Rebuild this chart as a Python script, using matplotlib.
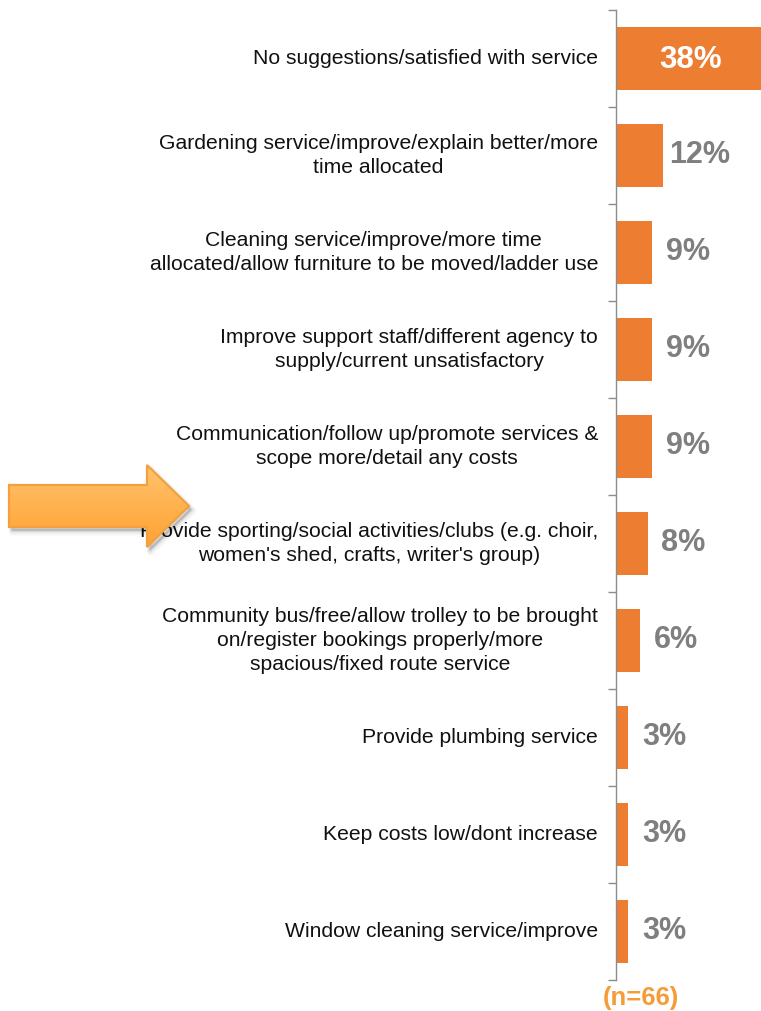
import numpy as np
import matplotlib
matplotlib.use("Agg")
import matplotlib.pyplot as plt
from matplotlib.patches import Polygon
from matplotlib.transforms import blended_transform_factory, offset_copy

plt.rcParams["font.family"] = ["Liberation Sans", "DejaVu Sans"]

categories = [
    "No suggestions/satisfied with service",
    "Gardening service/improve/explain better/more\ntime allocated",
    "Cleaning service/improve/more time\nallocated/allow furniture to be moved/ladder use",
    "Improve support staff/different agency to\nsupply/current unsatisfactory",
    "Communication/follow up/promote services &\nscope more/detail any costs",
    "Provide sporting/social activities/clubs (e.g. choir,\nwomen's shed, crafts, writer's group)",
    "Community bus/free/allow trolley to be brought\non/register bookings properly/more\nspacious/fixed route service",
    "Provide plumbing service",
    "Keep costs low/dont increase",
    "Window cleaning service/improve",
]
values = [38, 12, 9, 9, 9, 8, 6, 3, 3, 3]
value_labels = [f"{v}%" for v in values]
sample_note = "(n=66)"

BAR = "#ED7D31"
GREY = "#7F7F7F"
AXIS = "#8C8C8C"
NOTE = "#F59B38"

W, H = 761, 1011
fig = plt.figure(figsize=(W / 100, H / 100), dpi=100)
ax = fig.add_axes([616 / W, 1 - 980 / H, 1 - 616 / W, 970 / H])

y = np.arange(len(values))
ax.barh(y, values, height=0.64, color=BAR, zorder=2)
ax.set_xlim(0, 36.7)
ax.set_ylim(len(values) - 0.5, -0.5)

for s in ["top", "right", "bottom"]:
    ax.spines[s].set_visible(False)
ax.spines["left"].set_color(AXIS)
ax.spines["left"].set_linewidth(1.0)
ax.set_xticks([])
ax.set_yticks(np.arange(-0.5, len(values), 1.0))
ax.set_yticklabels([])
ax.tick_params(axis="y", length=6, color=AXIS, width=1.0, direction="out")

# category labels to the left of the axis
tl = blended_transform_factory(ax.transAxes, ax.transData)
tl = offset_copy(tl, fig=fig, x=-18, y=0, units="dots")
for yi, lab in zip(y, categories):
    ax.text(0, yi, lab, transform=tl, ha="right", va="center",
            multialignment="center", fontsize=15.2, linespacing=1.31,
            color="#111111", clip_on=False)

# value labels
for yi, v, lab in zip(y, values, value_labels):
    if v > 30:
        tr = offset_copy(ax.transData, fig=fig, x=0, y=-2, units="dots")
        ax.text(18.9, yi, lab, transform=tr, ha="center", va="center",
                fontsize=22.5, fontweight="bold", color="white", zorder=3)
    else:
        tr = offset_copy(ax.transData, fig=fig, x=36, y=0, units="dots")
        ax.text(v, yi, lab, transform=tr, ha="center", va="center",
                fontsize=22, fontweight="bold", color=GREY, zorder=3)

fig.text(641 / W, 1 - 998 / H, sample_note, ha="center", va="center",
         fontsize=18.5, fontweight="bold", color=NOTE)

# highlight arrow overlay in pixel space
ov = fig.add_axes([0, 0, 1, 1])
ov.set_xlim(0, W)
ov.set_ylim(H, 0)
ov.axis("off")
ov.patch.set_alpha(0)

arrow_pts = np.array([
    [9, 485], [147, 485], [147, 465], [189, 506],
    [147, 547], [147, 527], [9, 527],
])
# soft shadow
for k, a in zip(range(6, 0, -1), [0.015, 0.02, 0.025, 0.03, 0.035, 0.04]):
    sh = Polygon(arrow_pts + np.array([2 + k * 0.3, 3 + k * 0.3]),
                 closed=True, facecolor="#000000", edgecolor="#000000",
                 linewidth=k, alpha=a, joinstyle="round")
    ov.add_patch(sh)

poly = Polygon(arrow_pts, closed=True, facecolor="none",
               edgecolor="#F3A13E", linewidth=1.6, zorder=3)
ov.add_patch(poly)
grad = np.linspace(0, 1, 256).reshape(-1, 1)
cmap = matplotlib.colors.LinearSegmentedColormap.from_list(
    "arrowfill", ["#FFC46F", "#FFB24F", "#FFA233"])
im = ov.imshow(grad, cmap=cmap, extent=[9, 189, 547, 465], aspect="auto",
               zorder=2, interpolation="bilinear")
clip = Polygon(arrow_pts, closed=True, transform=ov.transData)
im.set_clip_path(clip)
ov.set_xlim(0, W)
ov.set_ylim(H, 0)

fig.savefig("out.png", dpi=100, facecolor="white")
